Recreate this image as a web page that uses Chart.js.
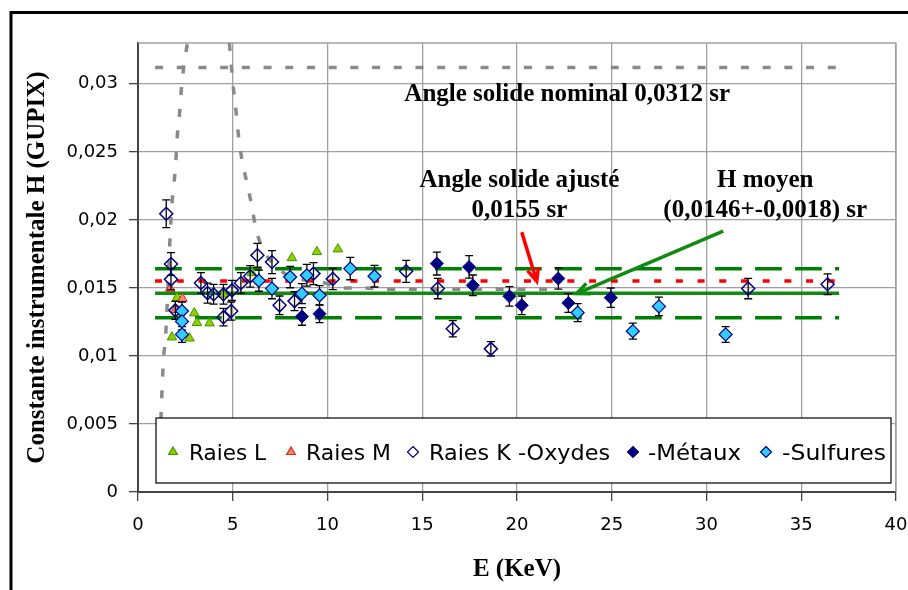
<!DOCTYPE html>
<html lang="fr">
<head>
<meta charset="utf-8">
<title>Constante instrumentale H</title>
<script src="https://cdn.jsdelivr.net/npm/chart.js@4.4.1/dist/chart.umd.min.js"></script>
<style>
  html,body{margin:0;padding:0;background:#fff;}
  #wrap{width:908px;height:590px;}
</style>
</head>
<body>
<div id="wrap"><canvas id="chart" width="908" height="590"></canvas></div>
<script>
// --- values (E in keV, H in sr) ---
const raiesL_E = [1.79, 2.06, 2.72, 2.97, 3.11, 3.78, 4.51, 6.01, 8.12, 9.44, 10.55];
const raiesL_H = [0.01138, 0.01428, 0.0113, 0.01315, 0.01244, 0.01241, 0.01453, 0.0161, 0.0172, 0.01765, 0.01785];

const raiesM_E = [1.70, 1.97, 2.35];
const raiesM_H = [0.01495, 0.0134, 0.01421];

const oxydes_E = [1.49, 1.74, 1.74, 1.97, 3.32, 3.67, 3.99, 4.51, 4.96, 4.51, 4.92, 5.43, 5.92, 6.3, 7.07, 7.47, 8.26, 9.26, 10.28, 14.15, 15.82, 16.61, 18.62, 32.2, 36.39];
const oxydes_H = [0.02045, 0.01676, 0.01563, 0.01335, 0.01536, 0.01462, 0.01453, 0.01453, 0.01482, 0.01285, 0.0133, 0.01536, 0.01585, 0.0174, 0.0169, 0.01372, 0.01403, 0.01605, 0.01566, 0.01622, 0.01495, 0.012, 0.01052, 0.01495, 0.01527];

const metaux_E = [8.65, 9.58, 15.77, 17.47, 17.67, 19.6, 20.25, 22.18, 22.71, 24.95];
const metaux_H = [0.0129, 0.0131, 0.01679, 0.01654, 0.01519, 0.01438, 0.01372, 0.01569, 0.01389, 0.01428];

const sulfures_E = [2.32, 2.32, 2.32, 6.38, 7.07, 8.03, 8.65, 8.91, 9.58, 11.2, 12.48, 23.2, 26.11, 27.49, 31.01];
const sulfures_H = [0.0133, 0.01254, 0.01158, 0.01553, 0.01495, 0.0158, 0.01458, 0.01593, 0.01445, 0.01642, 0.01586, 0.01318, 0.01182, 0.01364, 0.01158];

const relErr = 0.05;           // error bars on the K lines

const nominalH = 0.0312;
const adjustedH = 0.0155;
const meanH = 0.0146;
const sdH = 0.0018;
const refLineE = [0.9, 37];

const curveLeftE = [1.16, 1.35, 1.44, 1.58, 1.70, 1.79, 1.91, 2.00, 2.07, 2.18, 2.32, 2.65];
const curveLeftH = [0.0037, 0.0099, 0.0111, 0.0150, 0.0190, 0.0212, 0.0228, 0.0244, 0.0261, 0.0276, 0.0301, 0.0334];
const curveRightE = [4.82, 5.04, 5.18, 5.31, 5.49, 5.75, 5.98, 6.19, 6.45, 7.5, 8.72, 9.77, 10.67, 11.72, 13.47, 22];
const curveRightH = [0.0330, 0.0296, 0.0279, 0.0261, 0.0244, 0.0227, 0.0212, 0.0196, 0.0183, 0.0163, 0.0156, 0.0154, 0.0150, 0.0150, 0.0149, 0.0149];

const xTicks = [0, 5, 10, 15, 20, 25, 30, 35, 40];
const yTicks = [0, 0.005, 0.01, 0.015, 0.02, 0.025, 0.03];

// annotation arrows: [E start, H start, E end, H end]
const redArrow = [20.25, 0.0191, 21.04, 0.01549];
const greenArrow = [30.88, 0.01917, 23.15, 0.01458];

const pts = (xs, ys) => xs.map((x, i) => ({x: x, y: ys[i]}));
const flat = (h) => refLineE.map(e => ({x: e, y: h}));

const frame = {
  id: "frame",
  beforeDraw(chart){
    const ctx = chart.ctx;
    ctx.save();
    ctx.fillStyle = "#fff"; ctx.fillRect(0, 0, chart.width, chart.height);
    ctx.strokeStyle = "#000"; ctx.lineWidth = 3;
    ctx.beginPath();
    ctx.moveTo(11, chart.height); ctx.lineTo(11, 12.5); ctx.lineTo(chart.width, 12.5);
    ctx.stroke();
    ctx.restore();
  },
  beforeDatasetsDraw(chart){
    const ctx = chart.ctx, a = chart.chartArea;
    ctx.save();
    ctx.strokeStyle = "#a0a0a0"; ctx.lineWidth = 1.3;
    ctx.beginPath();
    ctx.moveTo(a.left, a.top); ctx.lineTo(a.right, a.top); ctx.lineTo(a.right, a.bottom);
    ctx.stroke();
    ctx.restore();
  }
};

const errorBars = {
  id: "errorBars",
  beforeDatasetDraw(chart, args){
    const ds = chart.data.datasets[args.index];
    if(!ds.errorBars) return;
    const ctx = chart.ctx, a = chart.chartArea, sx = chart.scales.x, sy = chart.scales.y;
    ctx.save();
    ctx.beginPath(); ctx.rect(a.left, a.top, a.right - a.left, a.bottom - a.top); ctx.clip();
    ctx.strokeStyle = "#000"; ctx.lineWidth = 1.3;
    ds.data.forEach(p => {
      const x = sx.getPixelForValue(p.x);
      const y1 = sy.getPixelForValue(p.y * (1 - relErr));
      const y2 = sy.getPixelForValue(p.y * (1 + relErr));
      ctx.beginPath();
      ctx.moveTo(x, y1); ctx.lineTo(x, y2);
      ctx.moveTo(x - 4, y1); ctx.lineTo(x + 4, y1);
      ctx.moveTo(x - 4, y2); ctx.lineTo(x + 4, y2);
      ctx.stroke();
    });
    ctx.restore();
  }
};

function arrow(ctx, x1, y1, x2, y2, color){
  ctx.strokeStyle = color; ctx.lineWidth = 3.5; ctx.lineJoin = "miter";
  ctx.beginPath(); ctx.moveTo(x1, y1); ctx.lineTo(x2, y2); ctx.stroke();
  const ang = Math.atan2(y2 - y1, x2 - x1), L = 14, sp = 0.42;
  ctx.beginPath();
  ctx.moveTo(x2 - L * Math.cos(ang - sp), y2 - L * Math.sin(ang - sp));
  ctx.lineTo(x2, y2);
  ctx.lineTo(x2 - L * Math.cos(ang + sp), y2 - L * Math.sin(ang + sp));
  ctx.stroke();
}

const notes = {
  id: "notes",
  afterDatasetsDraw(chart){
    const ctx = chart.ctx, sx = chart.scales.x, sy = chart.scales.y;
    const px = e => sx.getPixelForValue(e), py = h => sy.getPixelForValue(h);
    ctx.save();
    ctx.fillStyle = "#000";
    ctx.font = "bold 25px 'Liberation Serif', 'Times New Roman', serif";
    ctx.textAlign = "center"; ctx.textBaseline = "alphabetic";
    ctx.fillText("Angle solide nominal 0,0312 sr", px(22.65), py(0.02871));
    ctx.fillText("Angle solide ajusté", px(20.13), py(0.02244));
    ctx.fillText("0,0155 sr", px(20.13), py(0.02018));
    ctx.fillText("H moyen", px(33.1), py(0.02244));
    ctx.fillText("(0,0146+-0,0018) sr", px(33.1), py(0.02018));
    arrow(ctx, px(redArrow[0]), py(redArrow[1]), px(redArrow[2]), py(redArrow[3]), "#ff0000");
    arrow(ctx, px(greenArrow[0]), py(greenArrow[1]), px(greenArrow[2]), py(greenArrow[3]), "#108a10");
    ctx.restore();
  }
};

function marker(ctx, kind, x, y, r, fill, stroke){
  ctx.beginPath();
  if(kind === "triangle"){
    ctx.moveTo(x, y - r); ctx.lineTo(x + r * 0.87, y + r * 0.5); ctx.lineTo(x - r * 0.87, y + r * 0.5);
  } else {
    ctx.moveTo(x, y - r); ctx.lineTo(x + r, y); ctx.lineTo(x, y + r); ctx.lineTo(x - r, y);
  }
  ctx.closePath();
  ctx.fillStyle = fill; ctx.fill();
  ctx.strokeStyle = stroke; ctx.lineWidth = 1.2; ctx.stroke();
}

const legendItems = [
  {text: "Raies L", kind: "triangle", fill: "#99cc00", stroke: "#339900", mx: 173, tx: 189, tw: 77},
  {text: "Raies M", kind: "triangle", fill: "#ff8080", stroke: "#cc3300", mx: 291, tx: 306, tw: 85},
  {text: "Raies K -Oxydes", kind: "diamond", fill: "#fff", stroke: "#000080", mx: 413, tx: 429, tw: 181},
  {text: "-Métaux", kind: "diamond", fill: "#000080", stroke: "#000080", mx: 633, tx: 648, tw: 93},
  {text: "-Sulfures", kind: "diamond", fill: "#33ccff", stroke: "#000080", mx: 766, tx: 782, tw: 104}
];

const boxLegend = {
  id: "boxLegend",
  afterDraw(chart){
    const ctx = chart.ctx;
    ctx.save();
    ctx.fillStyle = "#fff"; ctx.fillRect(156, 418, 735, 65);
    ctx.strokeStyle = "#000"; ctx.lineWidth = 1.2; ctx.strokeRect(156, 418, 735, 65);
    ctx.font = "21px 'DejaVu Sans', sans-serif";
    ctx.textBaseline = "alphabetic"; ctx.textAlign = "left";
    legendItems.forEach(it => {
      marker(ctx, it.kind, it.mx, 452, it.kind === "triangle" ? 5 : 5.5, it.fill, it.stroke);
      const w = ctx.measureText(it.text).width;
      ctx.save();
      ctx.translate(it.tx, 460);
      ctx.scale(it.tw / w, 1);
      ctx.fillStyle = "#000";
      ctx.fillText(it.text, 0, 0);
      ctx.restore();
    });
    ctx.restore();
  }
};

const dashGray = {borderColor: "#8a8a8a", borderWidth: 3.5, borderDash: [8, 13.7], pointRadius: 0, showLine: true, fill: false, order: 10};

new Chart(document.getElementById("chart"), {
  type: "scatter",
  data: {
    datasets: [
      {label: "Raies L", data: pts(raiesL_E, raiesL_H), pointStyle: "triangle", pointRadius: 5.5,
       backgroundColor: "#99cc00", borderColor: "#339900", borderWidth: 1, order: 4},
      {label: "Raies M", data: pts(raiesM_E, raiesM_H), pointStyle: "triangle", pointRadius: 5.5,
       backgroundColor: "#ff8080", borderColor: "#cc3300", borderWidth: 1, order: 3},
      {label: "Raies K -Oxydes", data: pts(oxydes_E, oxydes_H), pointStyle: "rectRot", pointRadius: 6.5,
       backgroundColor: "rgba(255,255,255,0)", borderColor: "#000080", borderWidth: 1.5, errorBars: true, order: 2},
      {label: "-Métaux", data: pts(metaux_E, metaux_H), pointStyle: "rectRot", pointRadius: 6.5,
       backgroundColor: "#000080", borderColor: "#000080", borderWidth: 1, errorBars: true, order: 1},
      {label: "-Sulfures", data: pts(sulfures_E, sulfures_H), pointStyle: "rectRot", pointRadius: 6.5,
       backgroundColor: "#33ccff", borderColor: "#000080", borderWidth: 1.2, errorBars: true, order: 0},
      Object.assign({label: "nominal", data: flat(nominalH)}, dashGray),
      Object.assign({label: "courbe gauche", data: pts(curveLeftE, curveLeftH), cubicInterpolationMode: "monotone", clip: 8}, dashGray),
      Object.assign({label: "courbe droite", data: pts(curveRightE, curveRightH), cubicInterpolationMode: "monotone", clip: 8}, dashGray),
      {label: "moyen + sd", data: flat(meanH + sdH), showLine: true, borderColor: "#008000", borderWidth: 3.5, borderDash: [26.7, 13.3], pointRadius: 0, order: 10},
      {label: "moyen - sd", data: flat(meanH - sdH), showLine: true, borderColor: "#008000", borderWidth: 3.5, borderDash: [26.7, 13.3], pointRadius: 0, order: 10},
      {label: "moyen", data: flat(meanH), showLine: true, borderColor: "#108a10", borderWidth: 3.5, pointRadius: 0, order: 10},
      {label: "ajusté", data: flat(adjustedH), showLine: true, borderColor: "#ff0000", borderWidth: 3.5, borderDash: [7, 14.7], pointRadius: 0, order: 9}
    ]
  },
  options: {
    responsive: false,
    animation: false,
    layout: {padding: {left: 0, right: 12, top: 43, bottom: 0}},
    plugins: {legend: {display: false}, tooltip: {enabled: false}},
    scales: {
      x: {
        type: "linear", min: 0, max: 40,
        afterBuildTicks: s => { s.ticks = xTicks.map(v => ({value: v})); },
        afterFit: s => { s.height = 98; s.paddingLeft = 0; s.paddingRight = 0; },
        grid: {color: "#a0a0a0", lineWidth: 1.3, tickColor: "#444", tickLength: 9},
        border: {color: "#444", width: 2},
        ticks: {color: "#000", padding: 14, font: {family: "'DejaVu Sans', sans-serif", size: 18}},
        title: {display: true, text: "E (KeV)", color: "#000", padding: {top: 0, bottom: 5},
                font: {family: "'Liberation Serif', 'Times New Roman', serif", size: 25, weight: "bold"}}
      },
      y: {
        type: "linear", min: 0, max: 0.033,
        afterBuildTicks: s => { s.ticks = yTicks.map(v => ({value: v})); },
        afterFit: s => { s.width = 138; s.paddingTop = 0; s.paddingBottom = 0; },
        grid: {color: "#a0a0a0", lineWidth: 1.3, tickColor: "#444", tickLength: 9},
        border: {color: "#444", width: 2},
        ticks: {color: "#000", padding: 11, font: {family: "'DejaVu Sans', sans-serif", size: 18},
                callback: v => String(+v.toFixed(3)).replace(".", ",")},
        title: {display: true, text: "Constante instrumentale H (GUPIX)", color: "#000", padding: {top: 23, bottom: 0},
                font: {family: "'Liberation Serif', 'Times New Roman', serif", size: 25, weight: "bold"}}
      }
    }
  },
  plugins: [frame, errorBars, notes, boxLegend]
});
</script>
</body>
</html>
